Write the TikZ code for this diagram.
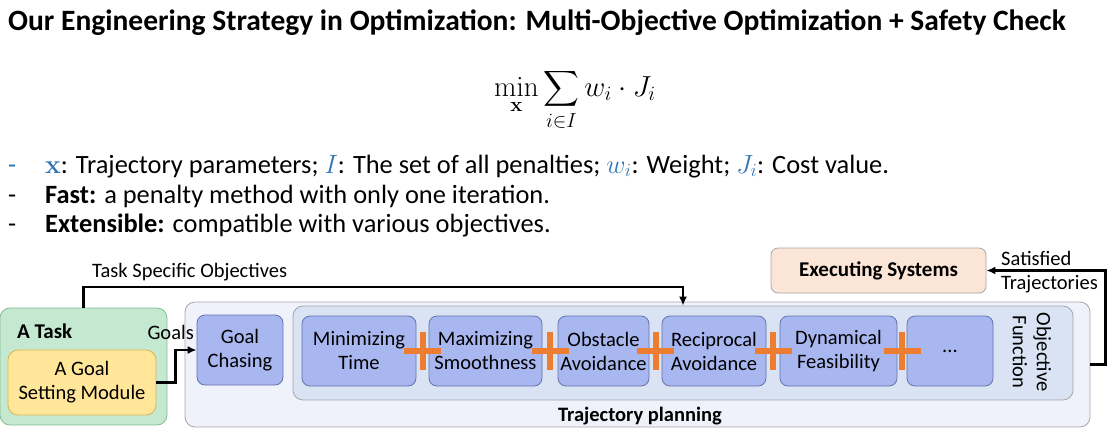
\RequirePackage{fix-cm}
\documentclass[tikz,border=0pt]{standalone}
\usepackage{amsmath}
\usepackage[no-math]{fontspec}
\setmainfont{Carlito}
\usetikzlibrary{arrows.meta}
\usetikzlibrary{calc}

\definecolor{taskgreen}{RGB}{197,232,208}
\definecolor{taskgreenline}{RGB}{130,190,150}
\definecolor{goalyellow}{RGB}{255,230,153}
\definecolor{goalyellowline}{RGB}{214,182,86}
\definecolor{planback}{RGB}{239,242,251}
\definecolor{objback}{RGB}{218,227,243}
\definecolor{termblue}{RGB}{169,183,240}
\definecolor{termblueline}{RGB}{100,115,170}
\definecolor{execpeach}{RGB}{251,229,214}
\definecolor{plusorange}{RGB}{237,125,49}
\definecolor{mathblue}{RGB}{46,117,182}

\tikzset{
  box/.style={draw=gray!70, rounded corners=10pt, line width=0.8pt, inner sep=0pt},
  term/.style={box, draw=termblueline, fill=termblue, rounded corners=8pt, minimum height=70,
    align=center, font=\fontsize{20.5}{24}\selectfont},
  flow/.style={line width=2.6pt, -{Latex[length=9pt,width=8pt]}},
  plusbar/.style={draw=plusorange, line width=6pt},
  txt/.style={font=\fontsize{20.5}{24}\selectfont, inner sep=0pt},
  bullet/.style={anchor=base west, inner sep=0pt, font=\fontsize{26.4}{30}\selectfont}
}

\begin{document}
\begin{tikzpicture}[x=1pt, y=-1pt]
\useasboundingbox (0,0) rectangle (1114,437);

% title, formula and bullets
\node[anchor=base west, inner sep=0pt, font=\fontsize{29.5}{34}\selectfont\bfseries] (title) at (8,30)
  {Our Engineering Strategy in Optimization: Multi-Objective Optimization + Safety Check};
\node[inner sep=0pt, font=\fontsize{29}{34}\selectfont] (formula) at (575,100)
  {$\displaystyle\min_{\mathbf{x}}\sum_{i\in I} w_i\cdot J_i$};
\node[bullet, text=mathblue] (dash1) at (8,173) {-};
\node[bullet] (dash2) at (8,203) {-};
\node[bullet] (dash3) at (8,232) {-};
\node[bullet] (item1) at (45,173)
  {\textcolor{mathblue}{$\mathbf{x}$}: Trajectory parameters; \textcolor{mathblue}{$I$}: The set of all penalties;
   \textcolor{mathblue}{$w_i$}: Weight; \textcolor{mathblue}{$J_i$}: Cost value.};
\node[bullet] (item2) at (45,203)
  {\textbf{Fast:} a penalty method with only one iteration.};
\node[bullet] (item3) at (45,232)
  {\textbf{Extensible:} compatible with various objectives.};

% containers
\node[box, draw=taskgreenline, fill=taskgreen, minimum width=167, minimum height=117] (task) at (83.5,366.5) {};
\node[box, fill=planback, minimum width=905, minimum height=125] (plan) at (637.5,364.5) {};
\node[box, fill=objback, minimum width=780, minimum height=94] (objfun) at (683,353) {};
\node[box, draw=goalyellowline, fill=goalyellow, minimum width=148, minimum height=65, align=center,
  font=\fontsize{20.5}{24}\selectfont] (goalset) at (82,382.5) {A Goal\\Setting Module};
\node[box, fill=execpeach, rounded corners=7pt, minimum width=215, minimum height=45,
  font=\fontsize{21}{24}\selectfont\bfseries] (exec) at (878.5,270.5) {Executing Systems};

\node[txt, anchor=base west, font=\fontsize{21}{24}\selectfont\bfseries] (tasklabel) at (17,338) {A Task};
\node[txt, anchor=base] (planlabel) at (640,421) {\bfseries Trajectory planning};
\node[txt, rotate=-90, align=center] (objlabel) at (1032,352) {Objective\\Function};

% penalty terms
\node[term, minimum width=86] (chase) at (240,350) {Goal\\Chasing};
\node[term, minimum width=114] (mintime) at (359,351) {Minimizing\\Time};
\node[term, minimum width=113] (maxsmooth) at (485.5,351) {Maximizing\\Smoothness};
\node[term, minimum width=91] (obstacle) at (603.5,351) {Obstacle\\Avoidance};
\node[term, minimum width=104] (reciprocal) at (714,351) {Reciprocal\\Avoidance};
\node[term, minimum width=117] (dynamic) at (838.5,351) {Dynamical\\Feasibility};
\node[term, minimum width=86] (more) at (950,351) {...};

% plus signs between the terms
\foreach \a/\b in {mintime/maxsmooth, maxsmooth/obstacle, obstacle/reciprocal, reciprocal/dynamic, dynamic/more} {
  \coordinate (p) at ($(\a.east)!0.5!(\b.west)$);
  \draw[plusbar] ($(p)+(-18.5,0)$) -- ($(p)+(18.5,0)$);
  \draw[plusbar] ($(p)+(0,-19)$) -- ($(p)+(0,19)$);
}

% arrows
\coordinate (tsobend) at (683,287);
\draw[flow] (task.north) |- (tsobend) -- (tsobend |- objfun.north);
\node[txt, anchor=base west] (tsolabel) at (92,277) {Task Specific Objectives};
\draw[flow] (goalset.east) -- ++(19,0) |- (chase.west);
\node[txt, anchor=base east] (goalslabel) at (194,339) {Goals};
\draw[flow] (plan.east) -- ++(15,0) |- (exec.east);
\node[txt, anchor=base west, align=left] (satlabel) at (1001,265) {Satisfied};
\node[txt, anchor=base west, align=left] (trajlabel) at (1001,289) {Trajectories};
\end{tikzpicture}
\end{document}
